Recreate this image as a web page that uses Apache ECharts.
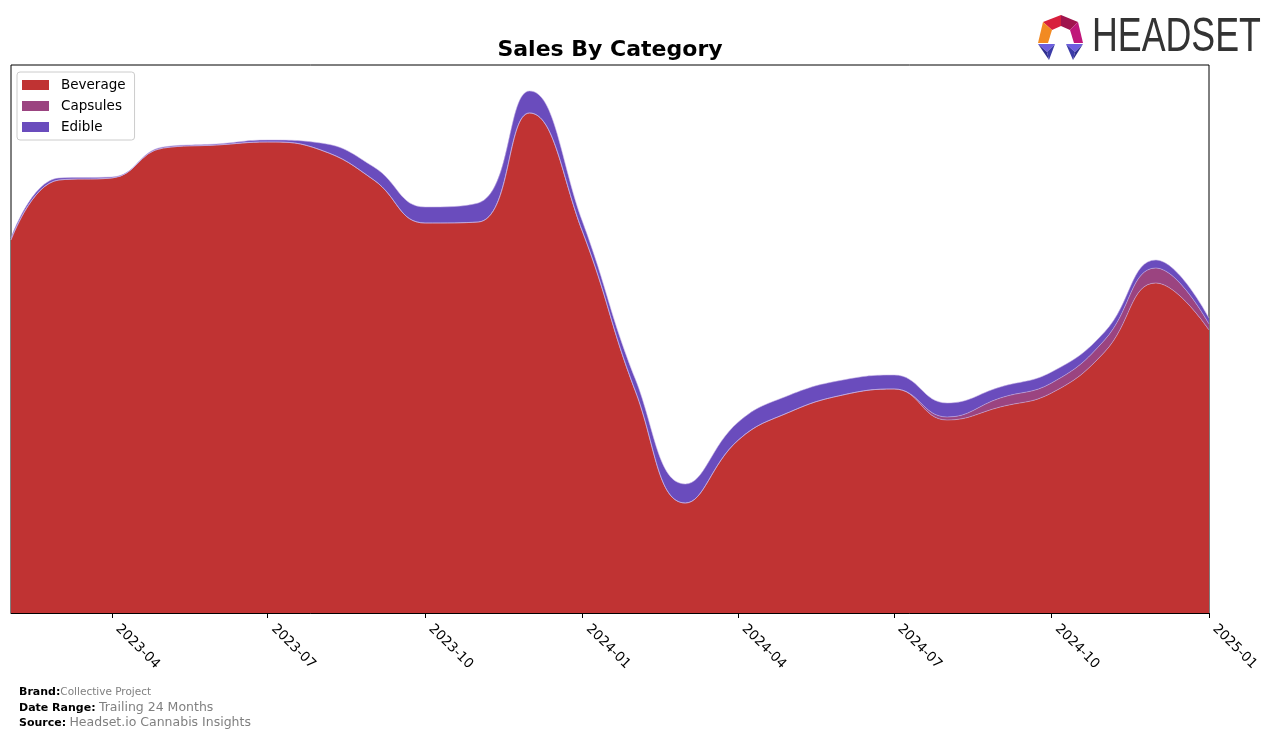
<!DOCTYPE html>
<html>
<head>
<meta charset="utf-8">
<script src="https://cdn.jsdelivr.net/npm/echarts@6/dist/echarts.min.js"></script>
<style>
html,body{margin:0;padding:0;background:#fff;}
#chart{width:1276px;height:739px;}
</style>
</head>
<body>
<div id="chart"></div>
<script>
// ---- data (monthly sales, arbitrary units) ----
const months = ['2023-02-01','2023-03-01','2023-04-01','2023-05-01','2023-06-01','2023-07-01','2023-08-01','2023-09-01','2023-10-01','2023-11-01','2023-12-01','2024-01-01','2024-02-01','2024-03-01','2024-04-01','2024-05-01','2024-06-01','2024-07-01','2024-08-01','2024-09-01','2024-10-01','2024-11-01','2024-12-01','2025-01-01'];
const beverage = [373,433,435,465,468,471,463,433,390,391,500,381,221,110,173,201,218,224,193,206,220,261,330,283];
const capsules = [0,0,0,0,0,0,0,0,0,0,0,0,0,0,0,0,0,0,3,9,10,12,15,6];
const edible   = [2,2,1,1,1,2,7,13,16,19,22,10,12,19,18,17,15,14,14,11,11,8,8,6];
const tickDates = ['2023-04-01','2023-07-01','2023-10-01','2024-01-01','2024-04-01','2024-07-01','2024-10-01','2025-01-01'];
const seriesNames = ['Beverage','Capsules','Edible'];
const colors = ['#c03333','#9b4480','#6a4cbd'];

const ts = d => new Date(d + 'T00:00:00Z').getTime();
// value first, timestamp second, so that stacking happens on the value (y) dimension
const pairs = arr => months.map((m,i)=>[arr[i], ts(m)]);
const tickVals = tickDates.map(ts);

const chart = echarts.init(document.getElementById('chart'), null, {renderer:'canvas'});
const FONT = 'DejaVu Sans';

function mkSeries(name, arr, color){
  return {
    name, type:'line', stack:'total', smooth:0.45, showSymbol:false, symbol:'none',
    data: pairs(arr),
    encode:{x:1, y:0},
    lineStyle:{width:0.6, color:'rgba(200,180,230,0.9)'},
    itemStyle:{color},
    areaStyle:{color, opacity:1},
    emphasis:{disabled:true}
  };
}

const option = {
  animation:false,
  backgroundColor:'#fff',
  color: colors,
  grid:{left:11, right:67, top:65, bottom:126, show:true, borderColor:'#000', borderWidth:1, backgroundColor:'transparent', containLabel:false},
  legend:{
    orient:'vertical', left:17, top:72,
    data: seriesNames,
    icon:'rect', itemWidth:27, itemHeight:10, itemGap:7,
    textStyle:{fontFamily:FONT, fontSize:13.5, lineHeight:13, color:'#000', padding:[0,0,0,7]},
    borderColor:'#cccccc', borderWidth:1, borderRadius:3,
    padding:[6,9,6,5], backgroundColor:'#fff'
  },
  xAxis:{
    type:'value', min: ts(months[0]), max: ts(months[months.length-1]),
    axisLine:{show:true, lineStyle:{color:'#000', width:1}},
    axisTick:{show:true, customValues: tickVals, length:5, lineStyle:{color:'#000'}},
    axisLabel:{
      customValues: tickVals, rotate:-45, fontFamily:FONT, fontSize:13.5, color:'#000', margin:8, padding:[0,0,0,8],
      formatter: v => { const d = new Date(v); return d.getUTCFullYear() + '-' + String(d.getUTCMonth()+1).padStart(2,'0'); }
    },
    splitLine:{show:false}
  },
  yAxis:{
    type:'value', min:0, max:548, show:false, splitLine:{show:false}
  },
  series:[
    mkSeries(seriesNames[0], beverage, colors[0]),
    mkSeries(seriesNames[1], capsules, colors[1]),
    mkSeries(seriesNames[2], edible, colors[2])
  ],
  graphic:[
    {type:'text', x:610, y:50, style:{text:'Sales By Category', font:'bold 22px "DejaVu Sans"', fill:'#000', textAlign:'center', textVerticalAlign:'middle'}},
    {type:'text', x:19, y:692, style:{
      text:'{b|Brand:}{g|Collective Project}',
      textVerticalAlign:'middle',
      rich:{b:{fontFamily:FONT, fontWeight:'bold', fontSize:11, fill:'#000'}, g:{fontFamily:FONT, fontSize:10.5, fill:'#808080'}}
    }},
    {type:'text', x:19, y:708, style:{
      text:'{b|Date Range:} {g|Trailing 24 Months}',
      textVerticalAlign:'middle',
      rich:{b:{fontFamily:FONT, fontWeight:'bold', fontSize:11, fill:'#000'}, g:{fontFamily:FONT, fontSize:12.5, fill:'#808080'}}
    }},
    {type:'text', x:19, y:723, style:{
      text:'{b|Source:} {g|Headset.io Cannabis Insights}',
      textVerticalAlign:'middle',
      rich:{b:{fontFamily:FONT, fontWeight:'bold', fontSize:11, fill:'#000'}, g:{fontFamily:FONT, fontSize:12.5, fill:'#808080'}}
    }},
    // logo icon
    {type:'polygon', shape:{points:[[1043,22],[1061,15],[1061,26],[1052,30]]}, style:{fill:'#d81f3c'}},
    {type:'polygon', shape:{points:[[1061,15],[1078,22],[1070,30],[1061,26]]}, style:{fill:'#a0154e'}},
    {type:'polygon', shape:{points:[[1078,22],[1083,43],[1074,43],[1070,30]]}, style:{fill:'#c0177a'}},
    {type:'polygon', shape:{points:[[1043,22],[1052,30],[1048,43],[1038,43]]}, style:{fill:'#f28a22'}},
    {type:'polygon', shape:{points:[[1038,44],[1055,44],[1047,52]]}, style:{fill:'#6d5ee0'}},
    {type:'polygon', shape:{points:[[1038,44],[1047,52],[1049,60]]}, style:{fill:'#2f2f8f'}},
    {type:'polygon', shape:{points:[[1047,52],[1055,44],[1049,60]]}, style:{fill:'#3b3ba8'}},
    {type:'polygon', shape:{points:[[1066,44],[1083,44],[1075,52]]}, style:{fill:'#6d5ee0'}},
    {type:'polygon', shape:{points:[[1066,44],[1075,52],[1073,60]]}, style:{fill:'#3b3ba8'}},
    {type:'polygon', shape:{points:[[1075,52],[1083,44],[1073,60]]}, style:{fill:'#2f2f8f'}},
    {type:'text', x:1092, y:38, scaleX:0.745, style:{text:'HEADSET', font:'48px "Liberation Sans"', fill:'#333333', textVerticalAlign:'middle'}}
  ]
};
chart.setOption(option);
</script>
</body>
</html>
